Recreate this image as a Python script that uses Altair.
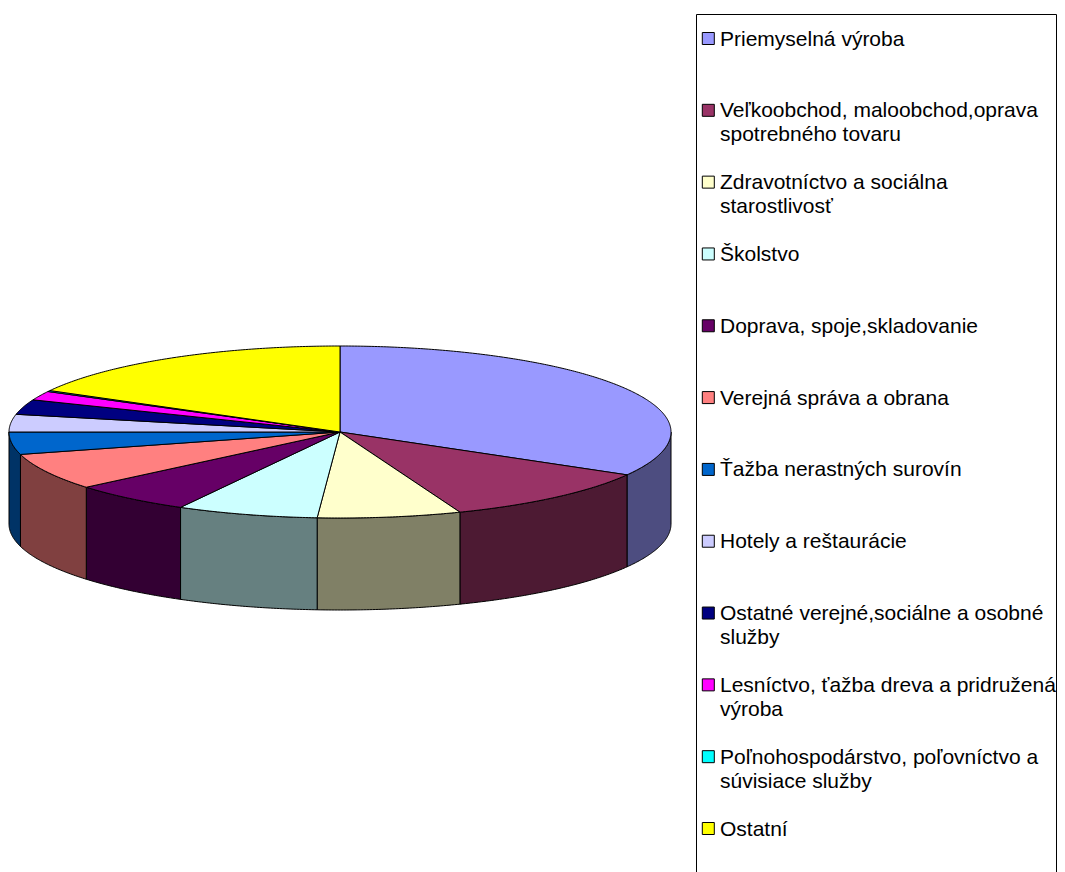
import math
import altair as alt

categories = ["Priemyselná výroba", "Veľkoobchod, maloobchod,oprava\nspotrebného tovaru",
              "Zdravotníctvo a sociálna\nstarostlivosť", "Školstvo", "Doprava, spoje,skladovanie",
              "Verejná správa a obrana", "Ťažba nerastných surovín", "Hotely a reštaurácie",
              "Ostatné verejné,sociálne a osobné\nslužby", "Lesníctvo, ťažba dreva a pridružená\nvýroba",
              "Poľnohospodárstvo, poľovníctvo a\nsúvisiace služby", "Ostatní"]
shares = [33.3, 10.8, 7.0, 6.9, 5.9, 6.9, 4.2, 3.3, 2.8, 1.7, 0.2, 17.0]
colors = ["#9999FF", "#993366", "#FFFFCC", "#CCFFFF", "#660066", "#FF8080",
          "#0066CC", "#CCCCFF", "#000080", "#FF00FF", "#00FFFF", "#FFFF00"]
wall_colors = ["#4D4D80", "#4D1A33", "#808066", "#668080", "#330033", "#804040",
               "#003366", "#666680", "#000040", "#800080", "#008080", "#808000"]

W, H = 1049, 864
CX, CY, RX, RY, DEPTH = 332.0, 424.0, 331.0, 86.0, 92.0


def pt(deg, dy=0.0):
    a = math.radians(deg)
    return [CX + RX * math.sin(a), CY - RY * math.cos(a) + dy]


def arc(a0, a1):
    n = max(2, int(abs(a1 - a0) * 2) + 1)
    return [a0 + (a1 - a0) * i / (n - 1) for i in range(n)]


def feature(ring, fill):
    return {"type": "Feature", "properties": {"fill": fill},
            "geometry": {"type": "Polygon", "coordinates": [ring + [ring[0]]]}}


tops, walls = [], []
angle = 0.0
total = sum(shares)
for share, fill, wall in zip(shares, colors, wall_colors):
    a0, a1 = angle, angle + 360.0 * share / total
    angle = a1
    tops.append(feature([[CX, CY]] + [pt(a) for a in arc(a0, a1)], fill))
    w0, w1 = max(a0, 90.0), min(a1, 270.0)
    if w1 > w0:
        aa = arc(w0, w1)
        walls.append(feature([pt(a) for a in aa] + [pt(a, DEPTH) for a in reversed(aa)], wall))


def shapes(features):
    return alt.Chart(alt.Data(values=features)).mark_geoshape(
        stroke="black", strokeWidth=1, strokeJoin="round"
    ).encode(color=alt.Color("properties.fill:N", scale=None)).project(
        type="identity", scale=1, translate=[0, 0])


rows = [{"cat": c, "fill": f} for c, f in zip(categories, colors)]
row_y = alt.Y("cat:N", sort=None, axis=None,
              scale=alt.Scale(type="point", domain=categories, range=[30.5, 820.5], padding=0))

box = alt.Chart(alt.Data(values=[{"a": 1}])).mark_rect(
    fill="white", fillOpacity=0, stroke="black", strokeWidth=1, clip=True
).encode(x=alt.value(688.5), x2=alt.value(1048.5), y=alt.value(6.5), y2=alt.value(880))

swatches = alt.Chart(alt.Data(values=rows)).mark_square(
    size=144, stroke="black", strokeWidth=1, opacity=1, filled=True
).encode(x=alt.value(700.3), y=row_y, color=alt.Color("fill:N", scale=None))

labels = alt.Chart(alt.Data(values=rows)).mark_text(
    align="left", baseline="top", dy=-10, font="Liberation Sans", fontSize=21.0,
    lineBreak="\n", lineHeight=24, color="black"
).encode(x=alt.value(712), y=row_y, text="cat:N")

chart = alt.layer(shapes(walls), shapes(tops), box, swatches, labels).properties(
    width=W, height=H, padding=0,
    autosize=alt.AutoSizeParams(type="none"),
).configure_view(stroke=None)

chart.save("out.html", embed_options={"renderer": "svg", "actions": False})
